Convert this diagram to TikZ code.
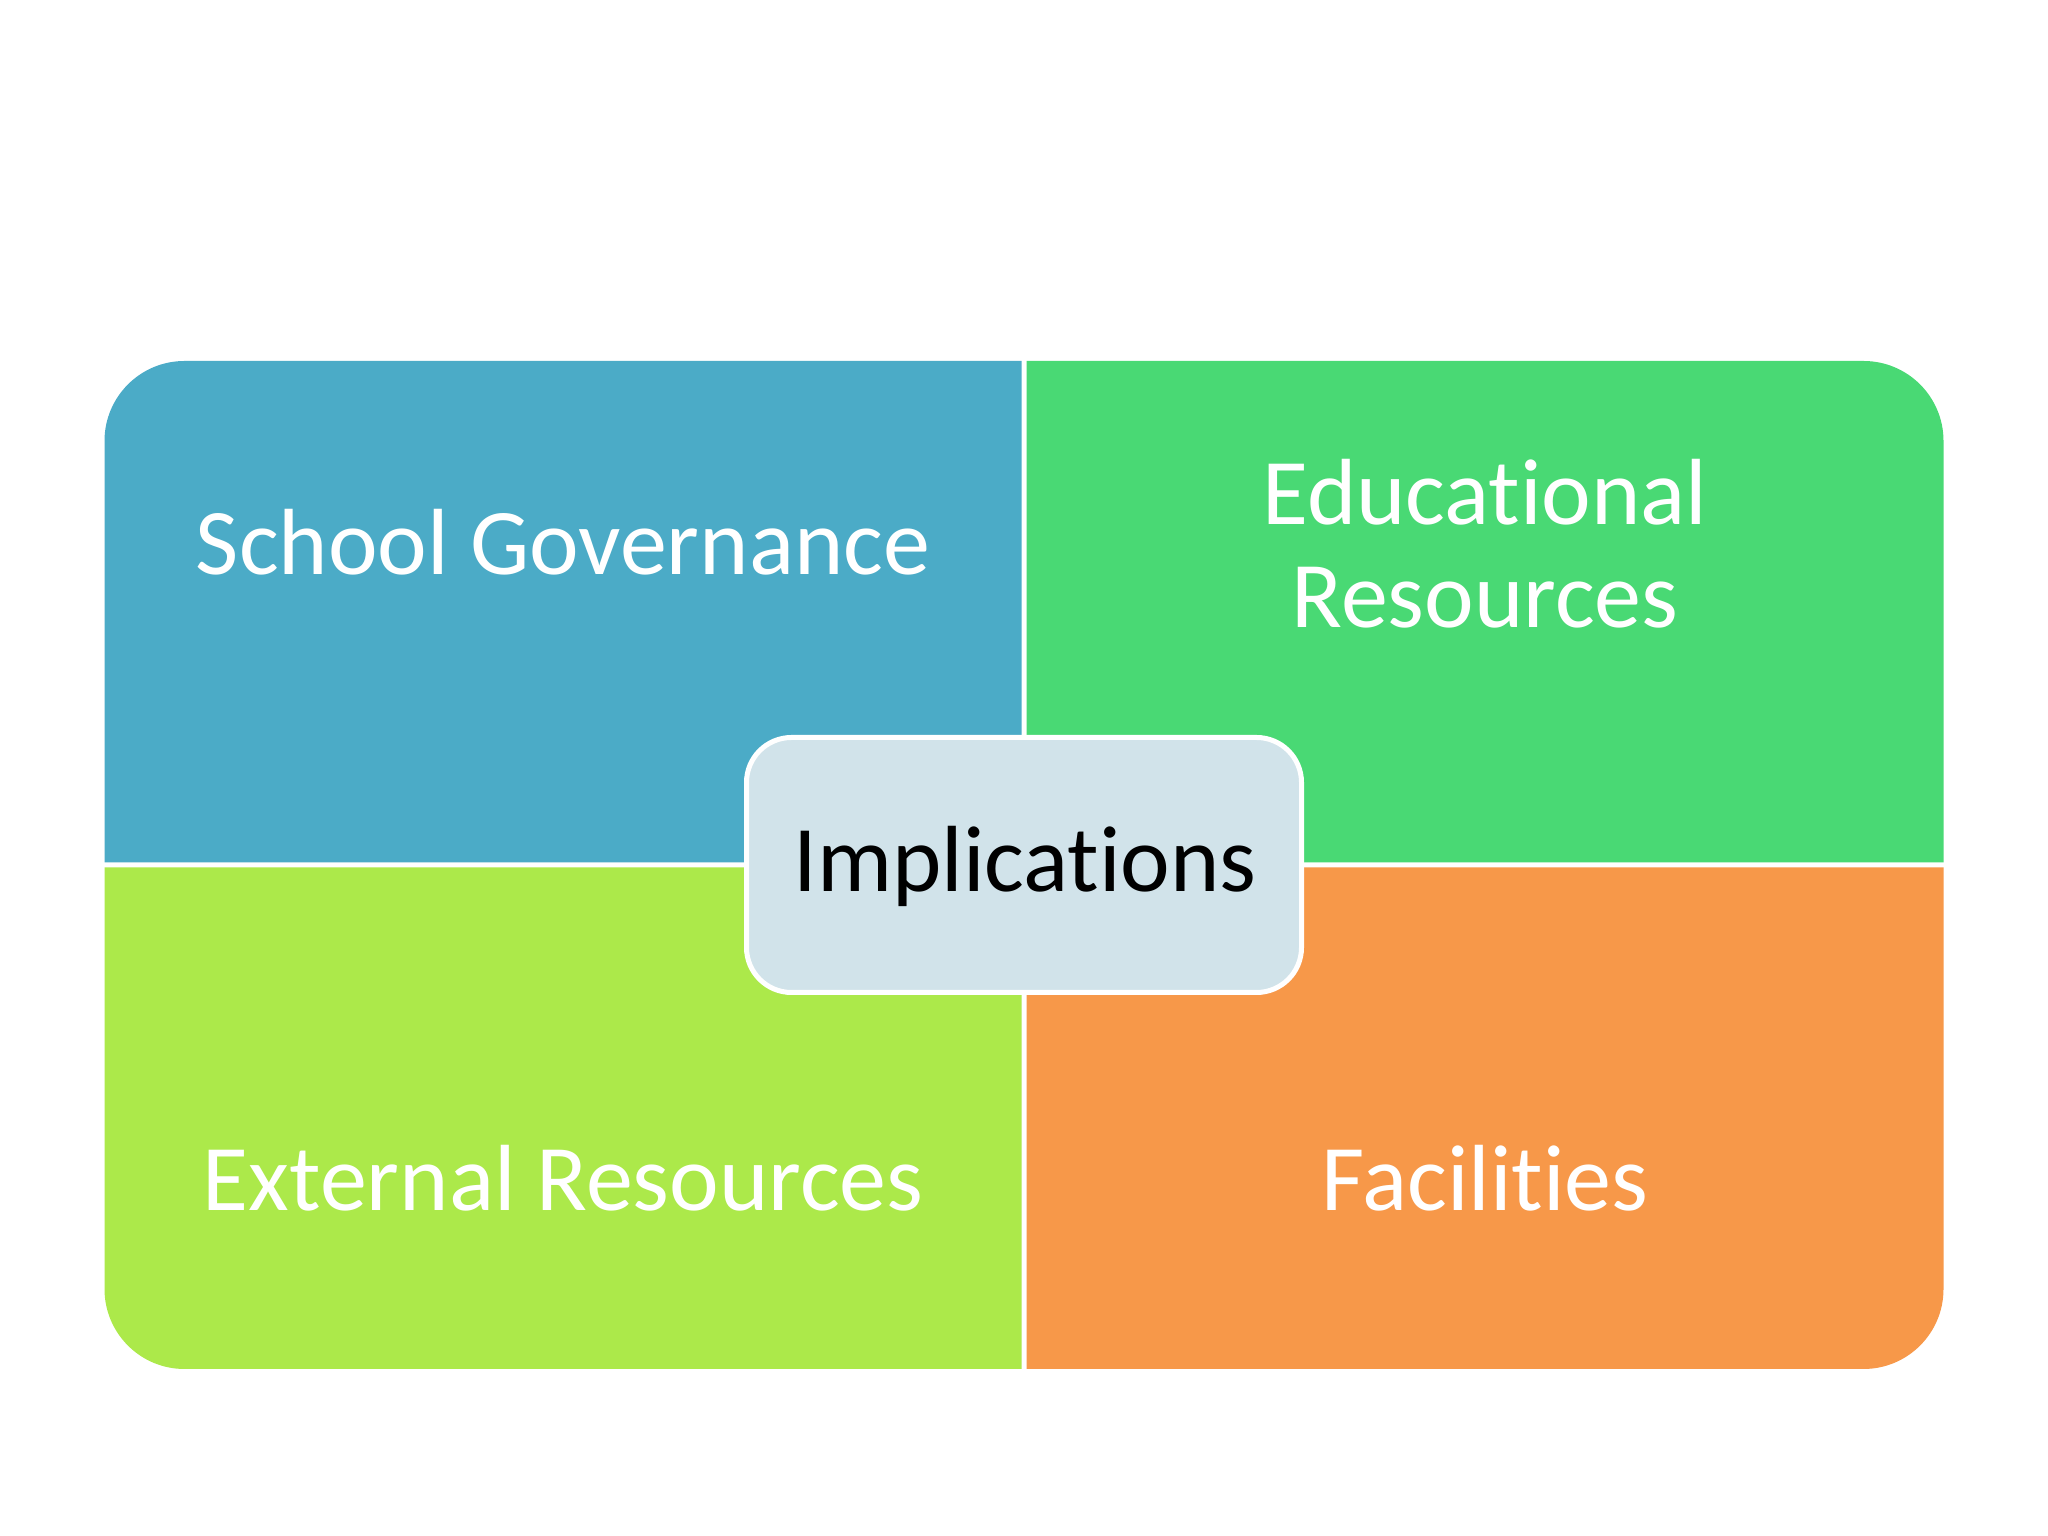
\documentclass[tikz,border=0pt]{standalone}
\usepackage{fontspec}
\setmainfont{Carlito}[Ligatures={NoCommon,NoRare},Contextuals=NoAlternate]
\definecolor{qblue}{HTML}{4BABC7}
\definecolor{qgreen}{HTML}{49D974}
\definecolor{qlime}{HTML}{ACE94A}
\definecolor{qorange}{HTML}{F79849}
\definecolor{cbox}{HTML}{D1E3EA}
\begin{document}
\begin{tikzpicture}[x=1pt,y=1pt,
  lbl/.style={text=white,font=\fontsize{94}{103}\selectfont,inner sep=0pt,anchor=base,align=center},
  hub/.style={fill=cbox,draw=white,line width=5pt,rounded corners=45pt,minimum width=555pt,minimum height=255pt,inner sep=0pt}]
\useasboundingbox (0,0) rectangle (2048,1536);
\fill[white] (0,0) rectangle (2048,1536);
% quadrants
\fill[qblue] (1021.5,673.5) -- (104.5,673.5) -- (104.5,1095) arc[start angle=180,end angle=90,radius=80] -- (1021.5,1175) -- cycle;
\fill[qgreen] (1026.5,673.5) -- (1943.5,673.5) -- (1943.5,1095) arc[start angle=0,end angle=90,radius=80] -- (1026.5,1175) -- cycle;
\fill[qlime] (1021.5,668.5) -- (104.5,668.5) -- (104.5,247) arc[start angle=180,end angle=270,radius=80] -- (1021.5,167) -- cycle;
\fill[qorange] (1026.5,668.5) -- (1943.5,668.5) -- (1943.5,247) arc[start angle=0,end angle=-90,radius=80] -- (1026.5,167) -- cycle;
% labels
\node[lbl] (gov) at (563,961) {School Governance};
\node[lbl] (edu) at (1485,908) {Educational\\Resources};
\node[lbl] (ext) at (563,325) {External Resources};
\node[lbl] (fac) at (1485,325) {Facilities};
% hub
\node[hub] (hubbox) at (1024,671) {};
\node[font=\fontsize{94}{103}\selectfont,text=black,anchor=base,inner sep=0pt] (imp) at (1025,644) {Implications};
\end{tikzpicture}
\end{document}
